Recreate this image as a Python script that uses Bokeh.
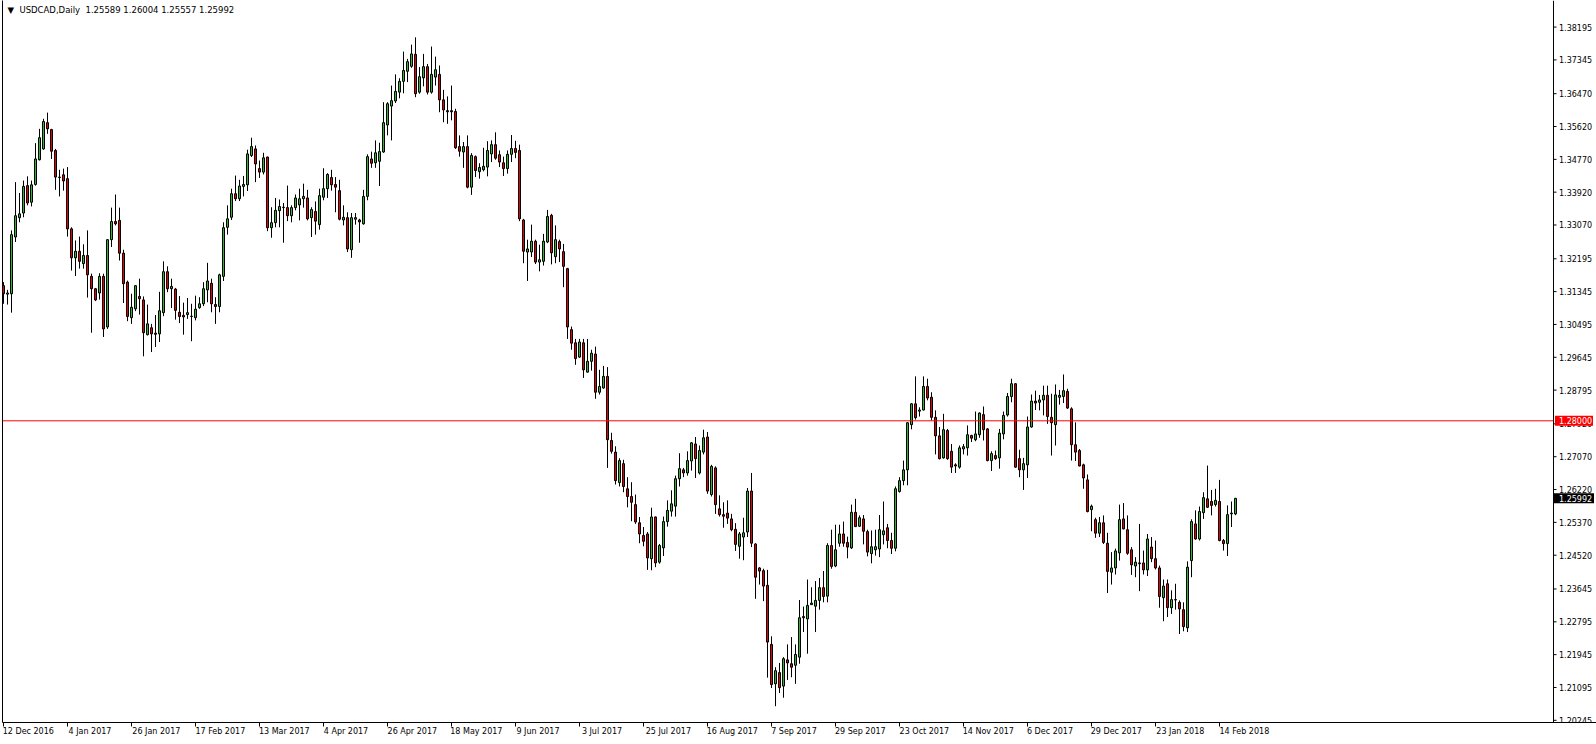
from bokeh.plotting import figure
from bokeh.models import (LinearAxis, FixedTicker, Span, Label, Range1d, ColumnDataSource)
from bokeh.embed import file_html
from bokeh.resources import INLINE
from bokeh.core.properties import value

symbol = "USDCAD,Daily"

opens = [
    1.3150, 1.3128, 1.3129, 1.3276, 1.3326, 1.3338, 1.3409, 1.3366, 1.3412, 1.3476,
    1.3504, 1.3572, 1.3554, 1.3500, 1.3431, 1.3437, 1.3427, 1.3297, 1.3222, 1.3239,
    1.3207, 1.3228, 1.3174, 1.3142, 1.3131, 1.3174, 1.3043, 1.3269, 1.3316, 1.3319,
    1.3234, 1.3159, 1.3067, 1.3090, 1.3122, 1.3113, 1.3023, 1.3041, 1.3027, 1.3025,
    1.3080, 1.3186, 1.3142, 1.3141, 1.3081, 1.3073, 1.3075, 1.3070, 1.3067, 1.3093,
    1.3103, 1.3139, 1.3156, 1.3101, 1.3096, 1.3174, 1.3301, 1.3327, 1.3388, 1.3375,
    1.3407, 1.3411, 1.3487, 1.3504, 1.3453, 1.3444, 1.3483, 1.3300, 1.3313, 1.3344,
    1.3352, 1.3352, 1.3331, 1.3352, 1.3359, 1.3375, 1.3377, 1.3326, 1.3342, 1.3308,
    1.3379, 1.3401, 1.3430, 1.3412, 1.3396, 1.3320, 1.3326, 1.3243, 1.3322, 1.3320,
    1.3310, 1.3381, 1.3478, 1.3468, 1.3472, 1.3496, 1.3566, 1.3615, 1.3628, 1.3651,
    1.3679, 1.3705, 1.3718, 1.3749, 1.3651, 1.3688, 1.3717, 1.3651, 1.3690, 1.3697,
    1.3631, 1.3603, 1.3603, 1.3601, 1.3510, 1.3496, 1.3510, 1.3405, 1.3484, 1.3445,
    1.3450, 1.3457, 1.3491, 1.3515, 1.3489, 1.3468, 1.3453, 1.3490, 1.3505, 1.3500,
    1.3320, 1.3237, 1.3237, 1.3265, 1.3211, 1.3213, 1.3263, 1.3332, 1.3225, 1.3264,
    1.3238, 1.3194, 1.3036, 1.3002, 1.2965, 1.3002, 1.2926, 1.2954, 1.2973, 1.2874,
    1.2885, 1.2915, 1.2749, 1.2719, 1.2640, 1.2689, 1.2624, 1.2604, 1.2583, 1.2536,
    1.2503, 1.2507, 1.2443, 1.2551, 1.2434, 1.2471, 1.2539, 1.2566, 1.2579, 1.2650,
    1.2673, 1.2665, 1.2696, 1.2740, 1.2665, 1.2719, 1.2758, 1.2609, 1.2678, 1.2572,
    1.2557, 1.2561, 1.2546, 1.2519, 1.2475, 1.2499, 1.2512, 1.2618, 1.2481, 1.2419,
    1.2412, 1.2374, 1.2221, 1.2119, 1.2148, 1.2113, 1.2181, 1.2171, 1.2167, 1.2188,
    1.2293, 1.2287, 1.2324, 1.2320, 1.2335, 1.2368, 1.2346, 1.2477, 1.2424, 1.2483,
    1.2507, 1.2485, 1.2471, 1.2563, 1.2527, 1.2546, 1.2513, 1.2456, 1.2466, 1.2468,
    1.2505, 1.2523, 1.2490, 1.2470, 1.2617, 1.2645, 1.2673, 1.2790, 1.2844, 1.2825,
    1.2828, 1.2889, 1.2861, 1.2809, 1.2761, 1.2704, 1.2775, 1.2721, 1.2686, 1.2680,
    1.2727, 1.2730, 1.2762, 1.2751, 1.2764, 1.2816, 1.2779, 1.2697, 1.2710, 1.2704,
    1.2766, 1.2815, 1.2863, 1.2896, 1.2702, 1.2673, 1.2686, 1.2784, 1.2851, 1.2848,
    1.2854, 1.2866, 1.2809, 1.2790, 1.2861, 1.2863, 1.2876, 1.2831, 1.2738, 1.2723,
    1.2686, 1.2647, 1.2570, 1.2544, 1.2509, 1.2536, 1.2483, 1.2408, 1.2419, 1.2458,
    1.2546, 1.2518, 1.2466, 1.2424, 1.2432, 1.2432, 1.2414, 1.2473, 1.2443, 1.2419,
    1.2342, 1.2378, 1.2316, 1.2337, 1.2330, 1.2311, 1.2264, 1.2438, 1.2533, 1.2494,
    1.2562, 1.2598, 1.2591, 1.2583, 1.2591, 1.2490, 1.2482, 1.2559, 1.25589,
]

highs = [
    1.3159, 1.3139, 1.3293, 1.3418, 1.3390, 1.3422, 1.3433, 1.3422, 1.3519, 1.3556,
    1.3582, 1.3598, 1.3556, 1.3504, 1.3450, 1.3453, 1.3457, 1.3301, 1.3267, 1.3277,
    1.3257, 1.3293, 1.3181, 1.3144, 1.3182, 1.3181, 1.3270, 1.3352, 1.3386, 1.3352,
    1.3243, 1.3163, 1.3129, 1.3151, 1.3168, 1.3122, 1.3101, 1.3051, 1.3074, 1.3134,
    1.3213, 1.3200, 1.3168, 1.3144, 1.3123, 1.3106, 1.3118, 1.3103, 1.3124, 1.3120,
    1.3159, 1.3209, 1.3168, 1.3120, 1.3181, 1.3314, 1.3358, 1.3401, 1.3435, 1.3424,
    1.3434, 1.3502, 1.3533, 1.3513, 1.3474, 1.3494, 1.3484, 1.3353, 1.3377, 1.3373,
    1.3364, 1.3409, 1.3358, 1.3386, 1.3401, 1.3414, 1.3398, 1.3353, 1.3368, 1.3401,
    1.3454, 1.3441, 1.3450, 1.3431, 1.3424, 1.3358, 1.3340, 1.3338, 1.3338, 1.3323,
    1.3398, 1.3490, 1.3497, 1.3526, 1.3520, 1.3625, 1.3625, 1.3668, 1.3697, 1.3687,
    1.3756, 1.3737, 1.3774, 1.3793, 1.3716, 1.3750, 1.3724, 1.3769, 1.3743, 1.3720,
    1.3657, 1.3640, 1.3668, 1.3608, 1.3539, 1.3522, 1.3539, 1.3493, 1.3487, 1.3467,
    1.3507, 1.3524, 1.3526, 1.3547, 1.3500, 1.3484, 1.3500, 1.3540, 1.3525, 1.3515,
    1.3323, 1.3269, 1.3308, 1.3269, 1.3256, 1.3284, 1.3346, 1.3336, 1.3306, 1.3269,
    1.3258, 1.3196, 1.3044, 1.3012, 1.3012, 1.3012, 1.3012, 1.2984, 1.2992, 1.2932,
    1.2942, 1.2939, 1.2769, 1.2734, 1.2703, 1.2699, 1.2654, 1.2641, 1.2609, 1.2551,
    1.2525, 1.2512, 1.2575, 1.2552, 1.2481, 1.2552, 1.2594, 1.2620, 1.2658, 1.2716,
    1.2678, 1.2721, 1.2745, 1.2758, 1.2736, 1.2777, 1.2771, 1.2686, 1.2682, 1.2607,
    1.2589, 1.2594, 1.2559, 1.2535, 1.2512, 1.2549, 1.2626, 1.2665, 1.2483, 1.2421,
    1.2417, 1.2414, 1.2242, 1.2162, 1.2173, 1.2188, 1.2221, 1.2240, 1.2221, 1.2336,
    1.2319, 1.2389, 1.2369, 1.2385, 1.2393, 1.2411, 1.2483, 1.2518, 1.2531, 1.2531,
    1.2539, 1.2500, 1.2583, 1.2598, 1.2555, 1.2556, 1.2518, 1.2516, 1.2518, 1.2556,
    1.2591, 1.2533, 1.2510, 1.2630, 1.2654, 1.2697, 1.2796, 1.2846, 1.2915, 1.2835,
    1.2915, 1.2909, 1.2874, 1.2827, 1.2784, 1.2818, 1.2779, 1.2740, 1.2690, 1.2736,
    1.2740, 1.2788, 1.2764, 1.2824, 1.2822, 1.2837, 1.2781, 1.2721, 1.2723, 1.2779,
    1.2824, 1.2872, 1.2909, 1.2897, 1.2725, 1.2704, 1.2811, 1.2868, 1.2878, 1.2867,
    1.2891, 1.2891, 1.2870, 1.2894, 1.2880, 1.2920, 1.2883, 1.2835, 1.2796, 1.2727,
    1.2689, 1.2661, 1.2583, 1.2549, 1.2551, 1.2555, 1.2510, 1.2460, 1.2469, 1.2583,
    1.2587, 1.2555, 1.2473, 1.2447, 1.2533, 1.2464, 1.2507, 1.2499, 1.2490, 1.2425,
    1.2389, 1.2389, 1.2361, 1.2378, 1.2335, 1.2330, 1.2436, 1.2545, 1.2568, 1.2578,
    1.2615, 1.2684, 1.2621, 1.2624, 1.2647, 1.2494, 1.2581, 1.2591, 1.26004,
]

lows = [
    1.3103, 1.3101, 1.3080, 1.3263, 1.3314, 1.3327, 1.3358, 1.3355, 1.3409, 1.3474,
    1.3502, 1.3543, 1.3478, 1.3398, 1.3381, 1.3396, 1.3277, 1.3189, 1.3175, 1.3194,
    1.3194, 1.3119, 1.3028, 1.3110, 1.3114, 1.3017, 1.3038, 1.3250, 1.3306, 1.3215,
    1.3105, 1.3058, 1.3051, 1.3084, 1.3075, 1.2967, 1.3021, 1.2978, 1.2991, 1.3004,
    1.3071, 1.3133, 1.3092, 1.3062, 1.3053, 1.3023, 1.3064, 1.3006, 1.3060, 1.3090,
    1.3097, 1.3107, 1.3081, 1.3051, 1.3081, 1.3162, 1.3282, 1.3320, 1.3369, 1.3369,
    1.3381, 1.3395, 1.3483, 1.3418, 1.3429, 1.3438, 1.3291, 1.3274, 1.3301, 1.3301,
    1.3261, 1.3317, 1.3314, 1.3345, 1.3319, 1.3352, 1.3319, 1.3276, 1.3282, 1.3295,
    1.3371, 1.3377, 1.3396, 1.3340, 1.3319, 1.3306, 1.3237, 1.3222, 1.3308, 1.3261,
    1.3308, 1.3371, 1.3455, 1.3455, 1.3408, 1.3494, 1.3539, 1.3526, 1.3623, 1.3635,
    1.3648, 1.3677, 1.3714, 1.3638, 1.3647, 1.3666, 1.3645, 1.3647, 1.3668, 1.3599,
    1.3573, 1.3569, 1.3578, 1.3504, 1.3484, 1.3455, 1.3402, 1.3385, 1.3431, 1.3427,
    1.3446, 1.3433, 1.3470, 1.3476, 1.3457, 1.3434, 1.3440, 1.3470, 1.3480, 1.3317,
    1.3208, 1.3162, 1.3224, 1.3206, 1.3187, 1.3202, 1.3260, 1.3205, 1.3208, 1.3211,
    1.3146, 1.3012, 1.2984, 1.2945, 1.2963, 1.2911, 1.2925, 1.2930, 1.2857, 1.2868,
    1.2883, 1.2678, 1.2715, 1.2635, 1.2630, 1.2615, 1.2576, 1.2540, 1.2533, 1.2483,
    1.2475, 1.2414, 1.2413, 1.2421, 1.2430, 1.2450, 1.2526, 1.2552, 1.2552, 1.2630,
    1.2654, 1.2658, 1.2671, 1.2652, 1.2661, 1.2713, 1.2611, 1.2604, 1.2559, 1.2552,
    1.2523, 1.2533, 1.2514, 1.2463, 1.2443, 1.2439, 1.2499, 1.2473, 1.2339, 1.2376,
    1.2333, 1.2135, 1.2108, 1.2061, 1.2095, 1.2083, 1.2129, 1.2136, 1.2119, 1.2171,
    1.2253, 1.2197, 1.2324, 1.2253, 1.2311, 1.2330, 1.2330, 1.2417, 1.2421, 1.2474,
    1.2474, 1.2444, 1.2468, 1.2525, 1.2525, 1.2480, 1.2449, 1.2431, 1.2451, 1.2447,
    1.2480, 1.2470, 1.2455, 1.2462, 1.2614, 1.2633, 1.2633, 1.2778, 1.2803, 1.2811,
    1.2827, 1.2853, 1.2801, 1.2713, 1.2700, 1.2702, 1.2699, 1.2665, 1.2665, 1.2676,
    1.2713, 1.2710, 1.2745, 1.2747, 1.2756, 1.2749, 1.2695, 1.2670, 1.2699, 1.2676,
    1.2752, 1.2811, 1.2848, 1.2678, 1.2654, 1.2621, 1.2652, 1.2782, 1.2828, 1.2827,
    1.2814, 1.2792, 1.2710, 1.2736, 1.2842, 1.2846, 1.2831, 1.2697, 1.2696, 1.2682,
    1.2624, 1.2563, 1.2514, 1.2497, 1.2499, 1.2481, 1.2354, 1.2376, 1.2402, 1.2438,
    1.2519, 1.2453, 1.2401, 1.2395, 1.2359, 1.2402, 1.2398, 1.2434, 1.2415, 1.2316,
    1.2281, 1.2292, 1.2300, 1.2311, 1.2248, 1.2255, 1.2253, 1.2395, 1.2492, 1.2490,
    1.2546, 1.2575, 1.2555, 1.2578, 1.2488, 1.2464, 1.2450, 1.2525, 1.25557,
]

closes = [
    1.3129, 1.3131, 1.3282, 1.3331, 1.3336, 1.3407, 1.3364, 1.3411, 1.3478, 1.3533,
    1.3575, 1.3556, 1.3498, 1.3431, 1.3430, 1.3421, 1.3297, 1.3222, 1.3239, 1.3213,
    1.3228, 1.3178, 1.3142, 1.3113, 1.3174, 1.3038, 1.3269, 1.3316, 1.3310, 1.3234,
    1.3155, 1.3070, 1.3094, 1.3150, 1.3116, 1.3028, 1.3051, 1.3025, 1.3024, 1.3085,
    1.3186, 1.3142, 1.3148, 1.3086, 1.3070, 1.3069, 1.3080, 1.3071, 1.3089, 1.3103,
    1.3142, 1.3162, 1.3103, 1.3096, 1.3178, 1.3300, 1.3323, 1.3388, 1.3375, 1.3408,
    1.3412, 1.3491, 1.3510, 1.3465, 1.3444, 1.3481, 1.3300, 1.3313, 1.3345, 1.3355,
    1.3353, 1.3331, 1.3352, 1.3377, 1.3375, 1.3381, 1.3323, 1.3347, 1.3317, 1.3383,
    1.3401, 1.3438, 1.3411, 1.3405, 1.3322, 1.3327, 1.3245, 1.3326, 1.3326, 1.3315,
    1.3381, 1.3484, 1.3467, 1.3494, 1.3497, 1.3572, 1.3621, 1.3629, 1.3653, 1.3679,
    1.3707, 1.3730, 1.3750, 1.3647, 1.3691, 1.3717, 1.3651, 1.3697, 1.3709, 1.3631,
    1.3605, 1.3600, 1.3600, 1.3507, 1.3498, 1.3510, 1.3405, 1.3487, 1.3448, 1.3456,
    1.3459, 1.3500, 1.3515, 1.3480, 1.3470, 1.3453, 1.3490, 1.3505, 1.3495, 1.3323,
    1.3239, 1.3245, 1.3265, 1.3211, 1.3217, 1.3265, 1.3329, 1.3235, 1.3269, 1.3245,
    1.3200, 1.3043, 1.3001, 1.2961, 1.3004, 1.2932, 1.2954, 1.2975, 1.2874, 1.2889,
    1.2915, 1.2751, 1.2721, 1.2645, 1.2697, 1.2630, 1.2604, 1.2589, 1.2538, 1.2507,
    1.2488, 1.2445, 1.2551, 1.2432, 1.2477, 1.2539, 1.2568, 1.2585, 1.2650, 1.2676,
    1.2665, 1.2697, 1.2743, 1.2702, 1.2723, 1.2756, 1.2618, 1.2682, 1.2583, 1.2557,
    1.2553, 1.2548, 1.2518, 1.2480, 1.2507, 1.2510, 1.2618, 1.2483, 1.2395, 1.2411,
    1.2372, 1.2227, 1.2117, 1.2153, 1.2109, 1.2184, 1.2173, 1.2162, 1.2195, 1.2290,
    1.2290, 1.2322, 1.2328, 1.2335, 1.2368, 1.2345, 1.2477, 1.2423, 1.2466, 1.2507,
    1.2483, 1.2473, 1.2563, 1.2526, 1.2549, 1.2514, 1.2460, 1.2474, 1.2474, 1.2518,
    1.2515, 1.2490, 1.2470, 1.2624, 1.2645, 1.2673, 1.2795, 1.2844, 1.2808, 1.2828,
    1.2889, 1.2859, 1.2809, 1.2761, 1.2702, 1.2777, 1.2702, 1.2680, 1.2683, 1.2730,
    1.2733, 1.2764, 1.2755, 1.2766, 1.2820, 1.2777, 1.2697, 1.2715, 1.2702, 1.2768,
    1.2814, 1.2863, 1.2896, 1.2680, 1.2673, 1.2689, 1.2784, 1.2851, 1.2846, 1.2854,
    1.2866, 1.2811, 1.2795, 1.2867, 1.2866, 1.2878, 1.2833, 1.2738, 1.2719, 1.2683,
    1.2652, 1.2565, 1.2579, 1.2509, 1.2536, 1.2485, 1.2410, 1.2419, 1.2463, 1.2544,
    1.2520, 1.2457, 1.2427, 1.2434, 1.2430, 1.2414, 1.2494, 1.2443, 1.2419, 1.2345,
    1.2372, 1.2316, 1.2337, 1.2336, 1.2313, 1.2267, 1.2421, 1.2539, 1.2494, 1.2565,
    1.2601, 1.2576, 1.2581, 1.2594, 1.2490, 1.2482, 1.2557, 1.2561, 1.25992,
]

date_labels = [
    "12 Dec 2016", "4 Jan 2017", "26 Jan 2017", "17 Feb 2017", "13 Mar 2017",
    "4 Apr 2017", "26 Apr 2017", "18 May 2017", "9 Jun 2017", "3 Jul 2017",
    "25 Jul 2017", "16 Aug 2017", "7 Sep 2017", "29 Sep 2017", "23 Oct 2017",
    "14 Nov 2017", "6 Dec 2017", "29 Dec 2017", "23 Jan 2018", "14 Feb 2018",
]
bars_per_label = 16

price_ticks = [
    1.20245, 1.21095, 1.21945, 1.22795, 1.23645, 1.24520, 1.25370, 1.26220,
    1.27070, 1.27920, 1.28795, 1.29645, 1.30495, 1.31345, 1.32195, 1.33070,
    1.33920, 1.34770, 1.35620, 1.36470, 1.37345, 1.38195,
]
level_line = 1.28000

# ---------------------------------------------------------------- layout / style
W, H = 1596, 744
LEFT_PAD, BOTTOM_PAD = 2, 22
PPB = 4.0                          # pixels per bar
X0 = -0.25
X1 = X0 + (W - LEFT_PAD) / PPB
AXIS_PX = 1553                     # price scale line, px from canvas left
AX = X0 + (AXIS_PX - LEFT_PAD) / PPB
Y0, Y1 = 1.20188, 1.38883
FONT = "DejaVu Sans"
FS = "8px"
BULL = "#2EB82E"
BEAR = "#E60000"

n = len(closes)
up = [c >= o for o, c in zip(opens, closes)]
src = ColumnDataSource(dict(
    x=list(range(n)), h=highs, l=lows,
    top=[max(o, c) for o, c in zip(opens, closes)],
    bot=[min(o, c) for o, c in zip(opens, closes)],
    col=[BULL if u else BEAR for u in up],
))

p = figure(width=W, height=H, output_backend="svg", toolbar_location=None,
           x_range=Range1d(X0, X1), y_range=Range1d(Y0, Y1),
           x_axis_type=None, y_axis_type=None, min_border=0,
           min_border_left=LEFT_PAD, min_border_bottom=BOTTOM_PAD,
           background_fill_color="white", border_fill_color="white")
p.outline_line_color = None

# left border
lax = LinearAxis(ticker=FixedTicker(ticks=[]), major_tick_out=0, major_tick_in=0,
                 minor_tick_out=0, minor_tick_in=0, major_label_standoff=0,
                 major_label_text_font_size="0px", axis_line_color="black")
p.add_layout(lax, "left")

# bottom axis: tick marks at labelled bars
label_bars = [i * bars_per_label for i in range(len(date_labels))]
bax = LinearAxis(ticker=FixedTicker(ticks=label_bars),
                 major_label_overrides={b: "" for b in label_bars},
                 major_tick_out=4, major_tick_in=0, minor_tick_out=0, minor_tick_in=0,
                 major_label_standoff=0, major_label_text_font_size="0px",
                 axis_line_color="black", major_tick_line_color="black")
p.add_layout(bax, "below")

# bottom labels, left-aligned at their bar
centres = [round(b + (len(t) * 4.7 / 2 - 1) / PPB, 2) for b, t in zip(label_bars, date_labels)]
lab_ax = LinearAxis(ticker=FixedTicker(ticks=centres),
                    major_label_overrides={c: t for c, t in zip(centres, date_labels)},
                    major_tick_out=0, major_tick_in=0, minor_tick_out=0, minor_tick_in=0,
                    major_label_standoff=0, axis_line_color=None,
                    major_label_text_font=FONT, major_label_text_font_size=FS,
                    major_label_text_color="black")
p.add_layout(lab_ax, "below")

# candles
p.segment(x0="x", y0="l", x1="x", y1="h", source=src, line_color="black", line_width=1)
p.vbar(x="x", width=0.5, top="top", bottom="bot", source=src,
       fill_color="col", line_color="black", line_width=1)

# horizontal level line (up to the price scale)
p.segment(x0=[X0], x1=[AX], y0=[level_line], y1=[level_line], line_color="#FF0000", line_width=1)

# price scale drawn with the figure's own y scale
p.add_layout(Span(location=AX, dimension="height", line_color="black", line_width=1))
p.segment(x0=[AX] * len(price_ticks), x1=[AX + 3 / PPB] * len(price_ticks),
          y0=price_ticks, y1=price_ticks, line_color="black", line_width=1)
p.text(x=[AX] * len(price_ticks), y=price_ticks, text=[f"{t:.5f}" for t in price_ticks],
       x_offset=5.5, text_font=value(FONT), text_font_size=FS, text_color="black",
       text_baseline="middle", text_align="left")

# price boxes on the scale
box_prices = [level_line, closes[-1]]
box_colors = ["#FF0000", "black"]
p.rect(x=[AX + 20.5 / PPB] * 2, y=box_prices, width=[38, 40], height=10,
       width_units="screen", height_units="screen",
       fill_color=box_colors, line_color=None)
p.text(x=[AX] * 2, y=box_prices, text=[f"{v:.5f}" for v in box_prices],
       x_offset=5.5, text_font=value(FONT), text_font_size=FS, text_color="white",
       text_baseline="middle", text_align="left")

# title
title = (f"\u25BC\u00A0 {symbol}\u00A0 {opens[-1]:.5f} {highs[-1]:.5f} "
         f"{lows[-1]:.5f} {closes[-1]:.5f}")
p.add_layout(Label(x=X0, y=Y1, x_offset=5, y_offset=-4, text=title,
                   text_font=FONT, text_font_size="8.5px", text_color="black",
                   text_baseline="top", text_align="left"))

open("out.html", "w").write(file_html(p, INLINE))
